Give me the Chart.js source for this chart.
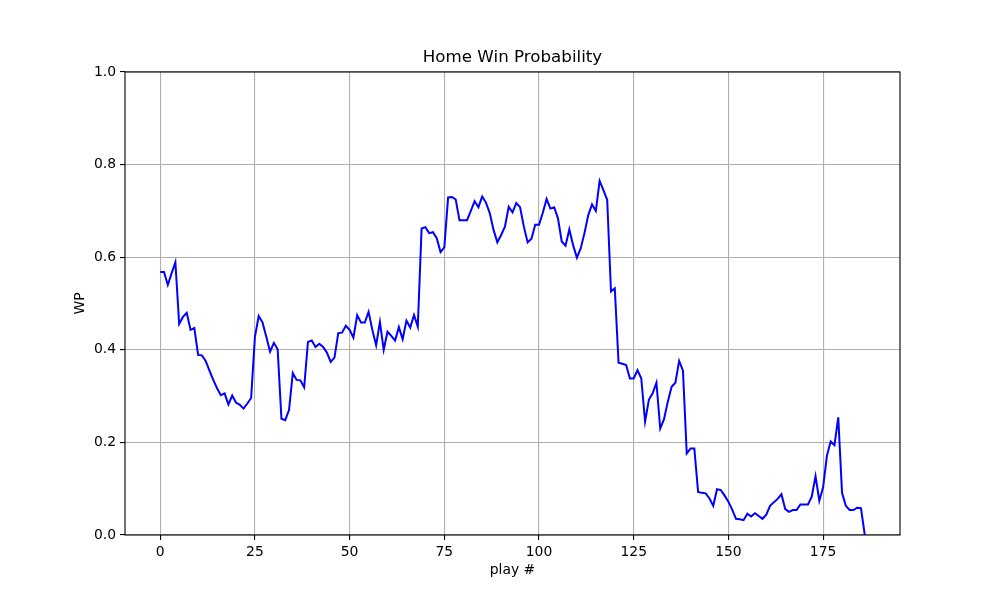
<!DOCTYPE html>
<html>
<head>
<meta charset="utf-8">
<script src="https://cdn.jsdelivr.net/npm/chart.js@4"></script>
<style>
  html, body { margin: 0; padding: 0; background: #fff; }
  #wrap { width: 1000px; height: 600px; }
</style>
</head>
<body>
<div id="wrap"><canvas id="wpChart" width="1000" height="600"></canvas></div>
<script>
// home win probability after each play (index = play #)
var wpValues = [
  0.568, 0.568, 0.540, 0.565, 0.589, 0.456, 0.471, 0.480, 0.443, 0.447,
  0.389, 0.388, 0.376, 0.355, 0.335, 0.317, 0.302, 0.306, 0.282, 0.301,
  0.286, 0.281, 0.273, 0.284, 0.296, 0.428, 0.473, 0.459, 0.428, 0.396,
  0.415, 0.401, 0.251, 0.248, 0.270, 0.350, 0.335, 0.334, 0.319, 0.417,
  0.420, 0.406, 0.413, 0.406, 0.394, 0.374, 0.383, 0.436, 0.437, 0.452,
  0.443, 0.426, 0.475, 0.459, 0.459, 0.482, 0.443, 0.410, 0.460, 0.400,
  0.439, 0.430, 0.420, 0.449, 0.423, 0.463, 0.448, 0.475, 0.450, 0.662,
  0.665, 0.652, 0.654, 0.641, 0.611, 0.621, 0.729, 0.730, 0.725, 0.680,
  0.680, 0.680, 0.700, 0.721, 0.708, 0.731, 0.718, 0.695, 0.659, 0.632,
  0.648, 0.666, 0.709, 0.697, 0.717, 0.708, 0.666, 0.632, 0.640, 0.670,
  0.670, 0.696, 0.726, 0.705, 0.708, 0.684, 0.634, 0.625, 0.660, 0.626,
  0.599, 0.619, 0.652, 0.691, 0.714, 0.700, 0.765, 0.745, 0.724, 0.526,
  0.533, 0.372, 0.370, 0.367, 0.338, 0.338, 0.356, 0.338, 0.245, 0.292,
  0.306, 0.329, 0.230, 0.250, 0.288, 0.320, 0.329, 0.376, 0.355, 0.176,
  0.187, 0.187, 0.093, 0.091, 0.090, 0.079, 0.063, 0.099, 0.097, 0.085,
  0.072, 0.055, 0.035, 0.034, 0.032, 0.046, 0.040, 0.047, 0.041, 0.035,
  0.044, 0.063, 0.071, 0.078, 0.088, 0.056, 0.050, 0.054, 0.054, 0.066,
  0.066, 0.066, 0.083, 0.127, 0.074, 0.103, 0.171, 0.202, 0.194, 0.254,
  0.091, 0.063, 0.054, 0.054, 0.059, 0.058, 0.000
];
var xTicks = [0, 25, 50, 75, 100, 125, 150, 175];
var yTicks = [0, 0.2, 0.4, 0.6, 0.8, 1.0];

var chartTitle = "Home Win Probability";
var xLabel = "play #";
var yLabel = "WP";

var points = wpValues.map(function (v, i) { return { x: i, y: v }; });

var tickFont = { family: "DejaVu Sans", size: 13.9 };

// title, axis labels and the frame round the plot
var decorations = {
    id: "decorations",
    afterDraw: function (chart) {
        var ctx = chart.ctx;
        var area = chart.chartArea;
        ctx.save();
        ctx.strokeStyle = "#000";
        ctx.lineWidth = 1.1;
        ctx.strokeRect(area.left, area.top, area.right - area.left, area.bottom - area.top);

        ctx.fillStyle = "#000";
        ctx.textAlign = "center";
        ctx.textBaseline = "middle";
        ctx.font = "16.7px 'DejaVu Sans'";
        ctx.fillText(chartTitle, (area.left + area.right) / 2, 58);

        ctx.font = "13.9px 'DejaVu Sans'";
        ctx.fillText(xLabel, (area.left + area.right) / 2, 570);

        ctx.translate(80, (area.top + area.bottom) / 2);
        ctx.rotate(-Math.PI / 2);
        ctx.fillText(yLabel, 0, 0);
        ctx.restore();
    }
};

var ctx = document.getElementById("wpChart").getContext("2d");
var chart = new Chart(ctx, {
    type: "line",
    data: {
        datasets: [
            {
                label: "WP",
                data: points,
                borderColor: "#0000ff",
                borderWidth: 2,
                lineTension: 0,
                pointRadius: 0,
                fill: false,
            },
        ],
    },
    options: {
        responsive: false,
        animation: false,
        layout: {
            padding: { top: 72, right: 100, left: 0, bottom: 0 },
        },
        plugins: {
            legend: { display: false },
            tooltip: { enabled: false },
        },
        scales: {
            x: {
                type: "linear",
                min: -9.3,
                max: 195.3,
                afterBuildTicks: function (axis) {
                    axis.ticks = xTicks.map(function (v) { return { value: v }; });
                },
                afterFit: function (axis) { axis.height = 65; },
                ticks: {
                    color: "#000",
                    font: tickFont,
                    padding: 4,
                    maxRotation: 0,
                    autoSkip: false,
                },
                grid: {
                    color: "#b0b0b0",
                    lineWidth: 1.1,
                    tickColor: "#000",
                    tickLength: 5,
                },
                border: { display: false },
            },
            y: {
                min: 0,
                max: 1,
                afterBuildTicks: function (axis) {
                    axis.ticks = yTicks.map(function (v) { return { value: v }; });
                },
                afterFit: function (axis) { axis.width = 125; },
                ticks: {
                    color: "#000",
                    font: tickFont,
                    padding: 4,
                    callback: function (v) { return v.toFixed(1); },
                },
                grid: {
                    color: "#b0b0b0",
                    lineWidth: 1.1,
                    tickColor: "#000",
                    tickLength: 5,
                },
                border: { display: false },
            },
        },
    },
    plugins: [decorations],
});
</script>
</body>
</html>
